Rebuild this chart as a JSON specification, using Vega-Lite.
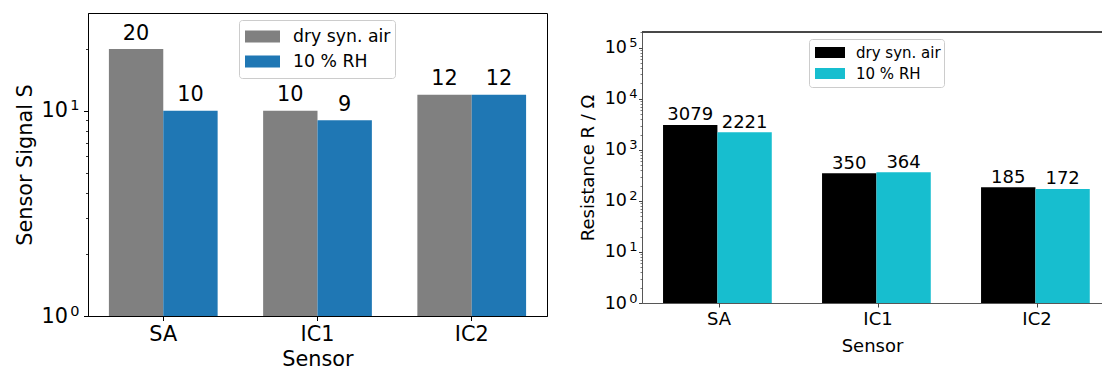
{
  "$schema": "https://vega.github.io/schema/vega-lite/v6.json",
  "autosize": {"type": "pad"},
  "padding": {"left": 13, "top": 12, "right": 0, "bottom": 0},
  "background": "white",
  "bounds": "flush",
  "spacing": 95,
  "resolve": {"scale": {"color": "independent"}, "legend": {"color": "independent"}},
  "config": {
    "font": "DejaVu Sans",
    "axis": {"labelColor": "#000", "titleColor": "#000", "titleFontWeight": "normal", "grid": false, "domainColor": "#000", "tickColor": "#000", "labelFont": "DejaVu Sans", "titleFont": "DejaVu Sans"},
    "legend": {"labelColor": "#000", "labelFont": "DejaVu Sans"}
  },
  "datasets": {
    "signal": [
      {"sensor": "SA", "cond": "dry syn. air", "value": 20},
      {"sensor": "SA", "cond": "10 % RH", "value": 10},
      {"sensor": "IC1", "cond": "dry syn. air", "value": 10},
      {"sensor": "IC1", "cond": "10 % RH", "value": 9},
      {"sensor": "IC2", "cond": "dry syn. air", "value": 12},
      {"sensor": "IC2", "cond": "10 % RH", "value": 12}
    ],
    "resistance": [
      {"sensor": "SA", "cond": "dry syn. air", "value": 3079},
      {"sensor": "SA", "cond": "10 % RH", "value": 2221},
      {"sensor": "IC1", "cond": "dry syn. air", "value": 350},
      {"sensor": "IC1", "cond": "10 % RH", "value": 364},
      {"sensor": "IC2", "cond": "dry syn. air", "value": 185},
      {"sensor": "IC2", "cond": "10 % RH", "value": 172}
    ]
  },
  "hconcat": [
    {
      "width": 459,
      "height": 303,
      "data": {"name": "signal"},
      "view": {"stroke": "#000", "strokeWidth": 1},
      "layer": [
        {
          "mark": {"type": "bar"},
          "encoding": {
            "x": {"field": "sensor", "type": "nominal", "sort": ["SA", "IC1", "IC2"],
              "scale": {"paddingInner": 0.295, "paddingOuter": 0.1355},
              "axis": {"title": "Sensor", "labelAngle": 0, "labelFontSize": 20.8, "titleFontSize": 20.8, "tickSize": 4.5, "labelPadding": 4, "titlePadding": 5, "domainWidth": 1}},
            "xOffset": {"field": "cond", "type": "nominal", "sort": ["dry syn. air", "10 % RH"], "scale": {"paddingInner": 0, "paddingOuter": 0}},
            "y": {"field": "value", "type": "quantitative",
              "scale": {"type": "log", "domain": [1, 30], "nice": false},
              "axis": {"orient": "left", "values": [1, 10], "labelExpr": "'10'", "title": "Sensor Signal S", "tickSize": 4.5, "labelPadding": 16, "labelFontSize": 20.8, "titleFontSize": 20.8, "titlePadding": 6, "labelFlush": false, "domainWidth": 1}},
            "y2": {"datum": 1},
            "color": {"field": "cond", "type": "nominal",
              "scale": {"domain": ["dry syn. air", "10 % RH"], "range": ["#808080", "#1f77b4"]},
              "legend": {"title": null, "orient": "none", "legendX": 151, "legendY": 7, "direction": "vertical", "symbolType": "M-1,-0.343H1V0.343H-1Z", "symbolSize": 1225, "symbolStrokeWidth": 0, "symbolOpacity": 1, "symbolOffset": 2, "labelFontSize": 17.3, "labelOffset": 13, "padding": 4, "strokeColor": "#cccccc", "cornerRadius": 3, "fillColor": "rgba(255,255,255,0.8)", "clipHeight": 25, "rowPadding": 0}}
          }
        },
        {
          "mark": {"type": "text", "dy": -9.5, "baseline": "alphabetic", "fontSize": 20.8, "color": "#000"},
          "encoding": {
            "x": {"field": "sensor", "type": "nominal", "sort": ["SA", "IC1", "IC2"]},
            "xOffset": {"field": "cond", "type": "nominal", "sort": ["dry syn. air", "10 % RH"]},
            "y": {"field": "value", "type": "quantitative",
              "axis": {"orient": "left", "values": [2, 3, 4, 5, 6, 7, 8, 9, 20], "labels": false, "domain": false, "title": null, "tickSize": 2.5, "tickWidth": 0.8}},
            "text": {"field": "value", "type": "quantitative"}
          }
        },
        {
          "mark": {"type": "rule", "opacity": 0},
          "encoding": {
            "y": {"datum": 30, "type": "quantitative",
              "axis": {"orient": "left", "values": [1, 10], "labelExpr": "datum.value == 1 ? '0' : '1'", "ticks": false, "tickSize": 0, "domain": false, "title": null, "labelPadding": 9, "labelFontSize": 14.5, "labelOffset": -5, "labelFlush": false}}
          }
        }
      ],
      "resolve": {"axis": {"y": "independent"}}
    },
    {
      "width": 460,
      "height": 290,
      "data": {"name": "resistance"},
      "view": {"stroke": null},
      "layer": [
        {
          "mark": {"type": "bar"},
          "encoding": {
            "x": {"field": "sensor", "type": "nominal", "sort": ["SA", "IC1", "IC2"],
              "scale": {"paddingInner": 0.296, "paddingOuter": 0.0945, "align": 0.7},
              "axis": {"title": "Sensor", "labelAngle": 0, "labelFontSize": 18, "titleFontSize": 18, "tickSize": 4, "labelPadding": 3, "titlePadding": 9, "domainColor": "#444", "tickColor": "#444", "domainWidth": 0.9}},
            "xOffset": {"field": "cond", "type": "nominal", "sort": ["dry syn. air", "10 % RH"], "scale": {"paddingInner": 0, "paddingOuter": 0}},
            "y": {"field": "value", "type": "quantitative",
              "scale": {"type": "log", "domain": [1, 204000], "nice": false, "range": [290, 19]},
              "axis": {"orient": "left", "values": [1, 10, 100, 1000, 10000, 100000], "labelExpr": "'10'", "title": "Resistance R / Ω", "tickSize": 3.5, "labelPadding": 12, "labelFontSize": 17.5, "titleFontSize": 18, "titlePadding": 7, "labelFlush": false, "domainColor": "#444", "tickColor": "#444", "domainWidth": 0.9}},
            "y2": {"datum": 1},
            "color": {"field": "cond", "type": "nominal",
              "scale": {"domain": ["dry syn. air", "10 % RH"], "range": ["#000000", "#17becf"]},
              "legend": {"title": null, "orient": "none", "legendX": 167, "legendY": 26, "direction": "vertical", "symbolType": "M-1,-0.367H1V0.367H-1Z", "symbolSize": 900, "symbolStrokeWidth": 0, "symbolOpacity": 1, "symbolOffset": 3, "labelFontSize": 15, "labelOffset": 11, "padding": 3, "strokeColor": "#cccccc", "cornerRadius": 3, "fillColor": "rgba(255,255,255,0.8)", "clipHeight": 21, "rowPadding": 0}}
          }
        },
        {
          "mark": {"type": "text", "dy": -4.5, "baseline": "alphabetic", "fontSize": 18, "color": "#000"},
          "encoding": {
            "x": {"field": "sensor", "type": "nominal", "sort": ["SA", "IC1", "IC2"]},
            "xOffset": {"field": "cond", "type": "nominal", "sort": ["dry syn. air", "10 % RH"]},
            "y": {"field": "value", "type": "quantitative",
              "axis": {"orient": "left", "values": [2, 3, 4, 5, 6, 7, 8, 9, 20, 30, 40, 50, 60, 70, 80, 90, 200, 300, 400, 500, 600, 700, 800, 900, 2000, 3000, 4000, 5000, 6000, 7000, 8000, 9000, 20000, 30000, 40000, 50000, 60000, 70000, 80000, 90000, 200000], "labels": false, "domain": false, "title": null, "tickSize": 2, "tickWidth": 0.7, "tickColor": "#444"}},
            "text": {"field": "value", "type": "quantitative"}
          }
        },
        {
          "mark": {"type": "rule", "color": "#444", "strokeWidth": 0.9},
          "encoding": {"y": {"datum": 204000, "type": "quantitative",
            "axis": {"orient": "left", "values": [1, 10, 100, 1000, 10000, 100000], "labelExpr": "'' + round(log(datum.value)/LN10)", "ticks": false, "tickSize": 0, "domain": false, "title": null, "labelPadding": 5, "labelFontSize": 13, "labelOffset": -5, "labelFlush": false}}}
        }
      ],
      "resolve": {"axis": {"y": "independent"}}
    }
  ]
}
